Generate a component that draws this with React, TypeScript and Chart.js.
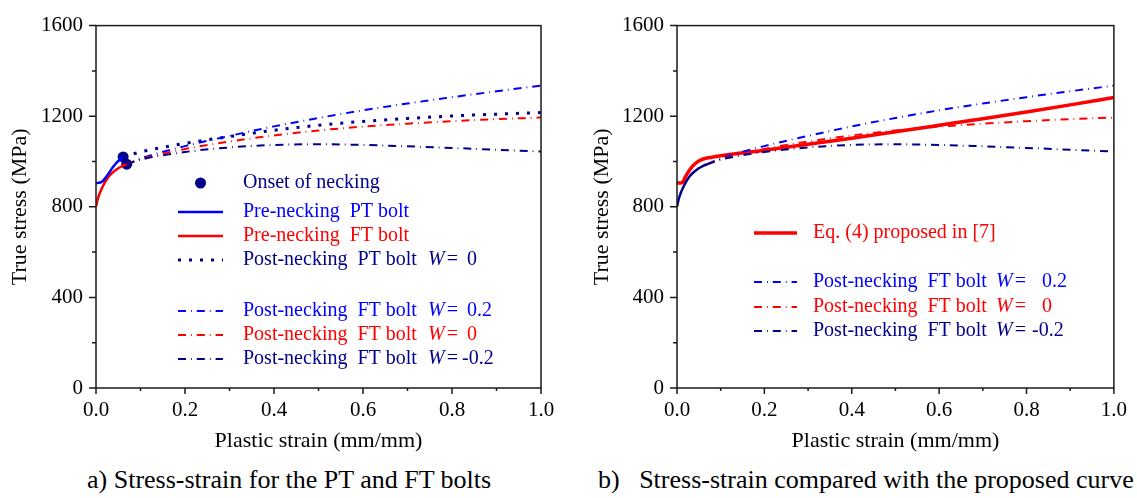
import React, { useEffect, useRef } from 'react';
import { Chart, registerables } from 'chart.js';
Chart.register(...registerables);

const FONT = "'Liberation Serif', 'Times New Roman', serif";
const BLUE = '#0000ff';
const NAVY = '#00008b';
const RED = '#ff0000';
const AXIS = '#1a1a1a';

// ---------- tick values ----------
const X_MAJOR = [0, 0.2, 0.4, 0.6, 0.8, 1.0];
const X_MINOR = [0.1, 0.3, 0.5, 0.7, 0.9];
const Y_MAJOR = [0, 400, 800, 1200, 1600];
const Y_MINOR = [200, 600, 1000, 1400];

// ---------- panel a) data ----------
const PT_PRE_X = [0, 0.01, 0.016, 0.024, 0.032, 0.04, 0.048, 0.055, 0.061];
const PT_PRE_Y = [905, 907, 915, 935, 958, 980, 998, 1010, 1020];

const FT_PRE_X = [0, 0.004, 0.01, 0.02, 0.03, 0.04, 0.05, 0.06, 0.069];
const FT_PRE_Y = [800, 835, 868, 908, 937, 956, 970, 981, 988];

const ONSET_X = [0.061, 0.069];
const ONSET_Y = [1020, 988];

const PT_POST_X = [0.061, 0.1, 0.2, 0.3, 0.4, 0.5, 0.6, 0.7, 0.8, 0.9, 1.0];
const PT_POST_Y = [1020, 1042, 1080, 1110, 1138, 1160, 1177, 1190, 1201, 1209, 1216];

const FT_POST_X = [0.069, 0.1, 0.2, 0.3, 0.4, 0.5, 0.6, 0.7, 0.8, 0.9, 1.0];
const FT_W02_Y = [988, 1013, 1068, 1113, 1155, 1192, 1226, 1256, 1284, 1310, 1335];
const FT_W0_Y = [988, 1010, 1055, 1088, 1115, 1137, 1154, 1167, 1178, 1187, 1194];
const FT_WM02_Y = [988, 1008, 1042, 1062, 1073, 1076, 1073, 1067, 1060, 1052, 1044];

// ---------- panel b) data ----------
const EQ4_X = [0, 0.011, 0.02, 0.03, 0.04, 0.05, 0.06, 0.08, 0.1, 0.2, 0.3, 0.4, 0.5, 0.6, 0.7, 0.8, 0.9, 1.0];
const EQ4_Y = [905, 906, 935, 966, 988, 1002, 1011, 1019, 1025, 1050, 1076, 1103, 1131, 1160, 1189, 1219, 1250, 1283];

const B_PRE_X = [0, 0.004, 0.01, 0.02, 0.03, 0.04, 0.05, 0.06, 0.069];
const B_PRE_Y = [800, 835, 868, 908, 937, 956, 970, 981, 988];

const DASH = [8, 5, 0.8, 5];
const DOT = [3, 8];

const pts = (xs: number[], ys: number[]) => xs.map((x, i) => ({ x, y: ys[i] }));

const line = (xs: number[], ys: number[], color: string, width: number, dash: number[] = []) => ({
  type: 'line',
  data: pts(xs, ys),
  borderColor: color,
  backgroundColor: color,
  borderWidth: width,
  borderDash: dash,
  borderCapStyle: 'butt',
  pointRadius: 0,
  fill: false,
  cubicInterpolationMode: 'monotone',
});

type LegendItem = { ds: number; kind: 'line' | 'dot'; label: string; color: string; y: number; w?: string };
type LegendCfg = { sx0: number; sx1: number; tx: number; wx: number; vx: number; nx: number; items: LegendItem[] };

const makePlugin = (cfg: LegendCfg) => ({
  id: 'frameLegend',
  afterDraw(chart: any) {
    const ctx = chart.ctx;
    const { left, right, top, bottom } = chart.chartArea;
    const xs = chart.scales.x;
    const ys = chart.scales.y;
    ctx.save();
    ctx.strokeStyle = AXIS;
    ctx.lineWidth = 1.5;
    ctx.setLineDash([]);
    ctx.strokeRect(left, top, right - left, bottom - top);
    ctx.beginPath();
    X_MAJOR.forEach((v) => { const p = xs.getPixelForValue(v); ctx.moveTo(p, bottom); ctx.lineTo(p, bottom + 6); });
    X_MINOR.forEach((v) => { const p = xs.getPixelForValue(v); ctx.moveTo(p, bottom); ctx.lineTo(p, bottom + 3); });
    Y_MAJOR.forEach((v) => { const p = ys.getPixelForValue(v); ctx.moveTo(left, p); ctx.lineTo(left - 7, p); });
    Y_MINOR.forEach((v) => { const p = ys.getPixelForValue(v); ctx.moveTo(left, p); ctx.lineTo(left - 4, p); });
    ctx.stroke();

    // legend
    ctx.textBaseline = 'middle';
    ctx.textAlign = 'left';
    cfg.items.forEach((it) => {
      const ds = chart.data.datasets[it.ds];
      if (it.kind === 'dot') {
        ctx.fillStyle = ds.backgroundColor;
        ctx.beginPath();
        ctx.arc((cfg.sx0 + cfg.sx1) / 2, it.y, ds.pointRadius, 0, Math.PI * 2);
        ctx.fill();
      } else {
        ctx.strokeStyle = ds.borderColor;
        ctx.lineWidth = ds.borderWidth;
        ctx.setLineDash(ds.borderDash || []);
        ctx.beginPath();
        ctx.moveTo(cfg.sx0, it.y);
        ctx.lineTo(cfg.sx1, it.y);
        ctx.stroke();
        ctx.setLineDash([]);
      }
      ctx.fillStyle = it.color;
      ctx.font = `20px ${FONT}`;
      ctx.fillText(it.label, cfg.tx, it.y);
      if (it.w !== undefined) {
        ctx.font = `italic 20px ${FONT}`;
        ctx.fillText('W', cfg.wx, it.y);
        const ww = ctx.measureText('W').width;
        ctx.font = `20px ${FONT}`;
        ctx.fillText('=', cfg.wx + ww + 2, it.y);
        ctx.fillText(it.w, it.w.startsWith('-') ? cfg.nx : cfg.vx, it.y);
      }
    });
    ctx.restore();
  },
});

const makeOptions = (yWidth: number, padRight: number) => ({
  responsive: false,
  animation: false,
  maintainAspectRatio: false,
  layout: { padding: { top: 18, right: padRight, left: 0, bottom: 0 } },
  plugins: { legend: { display: false }, tooltip: { enabled: false }, title: { display: false } },
  scales: {
    x: {
      type: 'linear',
      min: 0,
      max: 1,
      grid: { display: false, drawTicks: false },
      border: { display: false },
      ticks: {
        stepSize: 0.2,
        padding: 10,
        color: '#000',
        font: { family: FONT, size: 21 },
        callback: (v: number) => Number(v).toFixed(1),
        maxRotation: 0,
      },
      title: { display: true, text: 'Plastic strain (mm/mm)', color: '#000', font: { family: FONT, size: 22 }, padding: { top: 0, bottom: 4 } },
      afterFit: (s: any) => { s.height = 70; },
    },
    y: {
      type: 'linear',
      min: 0,
      max: 1600,
      grid: { display: false, drawTicks: false },
      border: { display: false },
      ticks: {
        stepSize: 400,
        padding: 13,
        color: '#000',
        font: { family: FONT, size: 21 },
        callback: (v: number) => String(Math.round(Number(v))),
      },
      title: { display: true, text: 'True stress (MPa)', color: '#000', font: { family: FONT, size: 22 }, padding: { top: 7, bottom: 0 } },
      afterFit: (s: any) => { s.width = yWidth; },
    },
  },
});

export default function App() {
  const refA = useRef<HTMLCanvasElement>(null);
  const refB = useRef<HTMLCanvasElement>(null);

  useEffect(() => {
    const dsA: any[] = [
      line(FT_POST_X, FT_WM02_Y, NAVY, 2, DASH),
      line(FT_POST_X, FT_W0_Y, RED, 2, DASH),
      line(FT_POST_X, FT_W02_Y, BLUE, 2, DASH),
      line(PT_POST_X, PT_POST_Y, NAVY, 3, DOT),
      line(PT_PRE_X, PT_PRE_Y, BLUE, 2.5),
      line(FT_PRE_X, FT_PRE_Y, RED, 2.5),
      { type: 'line', data: pts(ONSET_X, ONSET_Y), showLine: false, pointRadius: 5.5, pointBorderWidth: 0, backgroundColor: NAVY, borderColor: NAVY, pointBackgroundColor: NAVY },
    ];
    const legA: LegendCfg = {
      sx0: 178, sx1: 223, tx: 243, wx: 428, vx: 467, nx: 462,
      items: [
        { ds: 6, kind: 'dot', label: 'Onset of necking', color: NAVY, y: 183 },
        { ds: 4, kind: 'line', label: 'Pre-necking  PT bolt', color: BLUE, y: 212 },
        { ds: 5, kind: 'line', label: 'Pre-necking  FT bolt', color: RED, y: 236 },
        { ds: 3, kind: 'line', label: 'Post-necking  PT bolt', color: NAVY, y: 260, w: '0' },
        { ds: 2, kind: 'line', label: 'Post-necking  FT bolt', color: BLUE, y: 311, w: '0.2' },
        { ds: 1, kind: 'line', label: 'Post-necking  FT bolt', color: RED, y: 335, w: '0' },
        { ds: 0, kind: 'line', label: 'Post-necking  FT bolt', color: NAVY, y: 359, w: '-0.2' },
      ],
    };
    const chartA = new Chart(refA.current!, {
      type: 'line',
      data: { datasets: dsA },
      options: makeOptions(96, 27) as any,
      plugins: [makePlugin(legA)],
    });

    const offB = 582;
    const dsB: any[] = [
      line(FT_POST_X, FT_WM02_Y, NAVY, 2, DASH),
      line(FT_POST_X, FT_W0_Y, RED, 2, DASH),
      line(FT_POST_X, FT_W02_Y, BLUE, 2, DASH),
      line(B_PRE_X, B_PRE_Y, NAVY, 2.5),
      line(EQ4_X, EQ4_Y, RED, 3.5),
    ];
    const legB: LegendCfg = {
      sx0: 754 - offB, sx1: 797 - offB, tx: 813 - offB, wx: 996 - offB, vx: 1042 - offB, nx: 1032 - offB,
      items: [
        { ds: 4, kind: 'line', label: 'Eq. (4) proposed in [7]', color: RED, y: 233 },
        { ds: 2, kind: 'line', label: 'Post-necking  FT bolt', color: BLUE, y: 282, w: '0.2' },
        { ds: 1, kind: 'line', label: 'Post-necking  FT bolt', color: RED, y: 307, w: '0' },
        { ds: 0, kind: 'line', label: 'Post-necking  FT bolt', color: NAVY, y: 331, w: '-0.2' },
      ],
    };
    const chartB = new Chart(refB.current!, {
      type: 'line',
      data: { datasets: dsB },
      options: makeOptions(95, 18) as any,
      plugins: [makePlugin(legB)],
    });

    return () => {
      chartA.destroy();
      chartB.destroy();
    };
  }, []);

  const caption: React.CSSProperties = {
    position: 'absolute',
    top: 465,
    fontFamily: FONT,
    fontSize: 26,
    lineHeight: '30px',
    color: '#000',
    whiteSpace: 'pre',
    margin: 0,
  };

  return (
    <div style={{ position: 'absolute', left: 0, top: 0, width: 1137, height: 498, background: '#fff', overflow: 'hidden' }}>
      <canvas ref={refA} width={568} height={458} style={{ position: 'absolute', left: 0, top: 0, width: 568, height: 458 }} />
      <canvas ref={refB} width={555} height={458} style={{ position: 'absolute', left: 582, top: 0, width: 555, height: 458 }} />
      <div style={{ ...caption, left: 87 }}>a) Stress-strain for the PT and FT bolts</div>
      <div style={{ ...caption, left: 598 }}>b)   Stress-strain compared with the proposed curve</div>
    </div>
  );
}
